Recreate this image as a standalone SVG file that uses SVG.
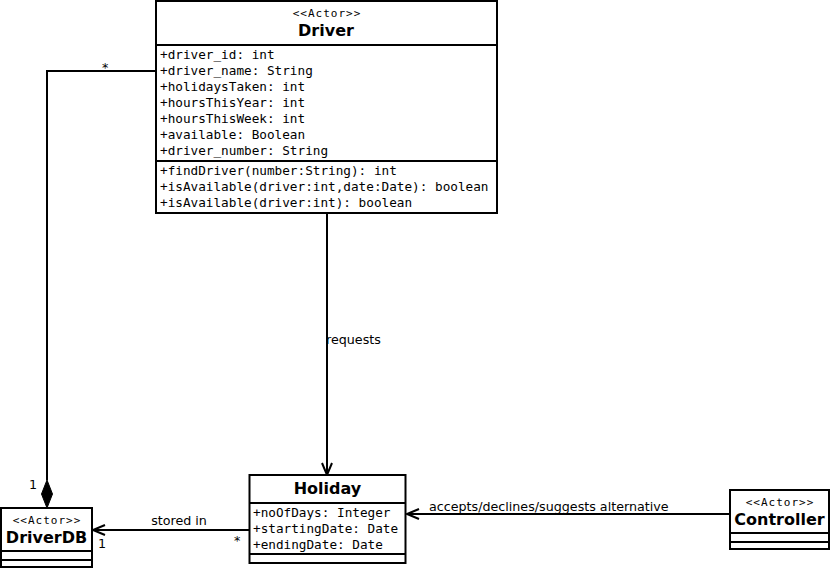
<svg xmlns="http://www.w3.org/2000/svg" width="833" height="571" viewBox="0 0 833 571">
<style>
.box{fill:#fff;stroke:#000;stroke-width:2}
.sep{stroke:#000;stroke-width:2}
.mono{font-family:"DejaVu Sans Mono",monospace;font-size:12.7px;fill:#000}
.st{font-family:"DejaVu Sans Mono",monospace;font-size:11px;letter-spacing:1px;fill:#000;text-anchor:middle}
.name{font-family:"DejaVu Sans",sans-serif;font-size:16px;font-weight:bold;fill:#000;text-anchor:middle}
.lbl{font-family:"DejaVu Sans",sans-serif;font-size:12.7px;fill:#000}
.ln{fill:none;stroke:#000;stroke-width:2}
</style>
<rect width="833" height="571" fill="#fff"/>
<g id="connectors">
  <path class="ln" d="M156,71 H47 V480"/>
  <polygon points="47,508 52.5,494 47,480 41.5,494" fill="#000" stroke="#000" stroke-width="1"/>
  <text class="lbl" x="102" y="72">*</text>
  <text class="lbl" x="29" y="489">1</text>
  <path class="ln" d="M327,213 V474"/>
  <path class="ln" d="M322,463 L327,475 L332,463"/>
  <text class="lbl" x="326" y="344">requests</text>
  <path class="ln" d="M249,530 H94"/>
  <path class="ln" d="M105,525 L93,530 L105,535"/>
  <text class="lbl" x="179" y="525" text-anchor="middle">stored in</text>
  <text class="lbl" x="98" y="548">1</text>
  <text class="lbl" x="234" y="545">*</text>
  <path class="ln" d="M730,514 H408"/>
  <path class="ln" d="M419,509 L407,514 L419,519"/>
  <text class="lbl" x="429" y="511">accepts/declines/suggests alternative</text>
</g>
<g id="driver">
  <rect class="box" x="156" y="1" width="341" height="212"/>
  <line class="sep" x1="156" y1="45" x2="497" y2="45"/>
  <line class="sep" x1="156" y1="161" x2="497" y2="161"/>
  <text class="st" x="327" y="17">&lt;&lt;Actor&gt;&gt;</text>
  <text class="name" x="326" y="36">Driver</text>
  <text class="mono" x="160" y="58.5">+driver_id: int</text>
  <text class="mono" x="160" y="74.5">+driver_name: String</text>
  <text class="mono" x="160" y="90.5">+holidaysTaken: int</text>
  <text class="mono" x="160" y="106.5">+hoursThisYear: int</text>
  <text class="mono" x="160" y="122.5">+hoursThisWeek: int</text>
  <text class="mono" x="160" y="138.5">+available: Boolean</text>
  <text class="mono" x="160" y="154.5">+driver_number: String</text>
  <text class="mono" x="160" y="174.5">+findDriver(number:String): int</text>
  <text class="mono" x="160" y="190.5">+isAvailable(driver:int,date:Date): boolean</text>
  <text class="mono" x="160" y="206.5">+isAvailable(driver:int): boolean</text>
</g>
<g id="driverdb">
  <rect class="box" x="1" y="508" width="91" height="59"/>
  <line class="sep" x1="1" y1="551" x2="92" y2="551"/>
  <line class="sep" x1="1" y1="560" x2="92" y2="560"/>
  <text class="st" x="47" y="524">&lt;&lt;Actor&gt;&gt;</text>
  <text class="name" x="46.5" y="543">DriverDB</text>
</g>
<g id="holiday">
  <rect class="box" x="249.5" y="475" width="156" height="88"/>
  <line class="sep" x1="249.5" y1="503" x2="405.5" y2="503"/>
  <line class="sep" x1="249.5" y1="554" x2="405.5" y2="554"/>
  <text class="name" x="327.5" y="494">Holiday</text>
  <text class="mono" x="253" y="516.5">+noOfDays: Integer</text>
  <text class="mono" x="253" y="532.5">+startingDate: Date</text>
  <text class="mono" x="253" y="548.5">+endingDate: Date</text>
</g>
<g id="controller">
  <rect class="box" x="730" y="490" width="99" height="59"/>
  <line class="sep" x1="730" y1="533" x2="829" y2="533"/>
  <line class="sep" x1="730" y1="542" x2="829" y2="542"/>
  <text class="st" x="780" y="506">&lt;&lt;Actor&gt;&gt;</text>
  <text class="name" x="779.5" y="525">Controller</text>
</g>
</svg>
